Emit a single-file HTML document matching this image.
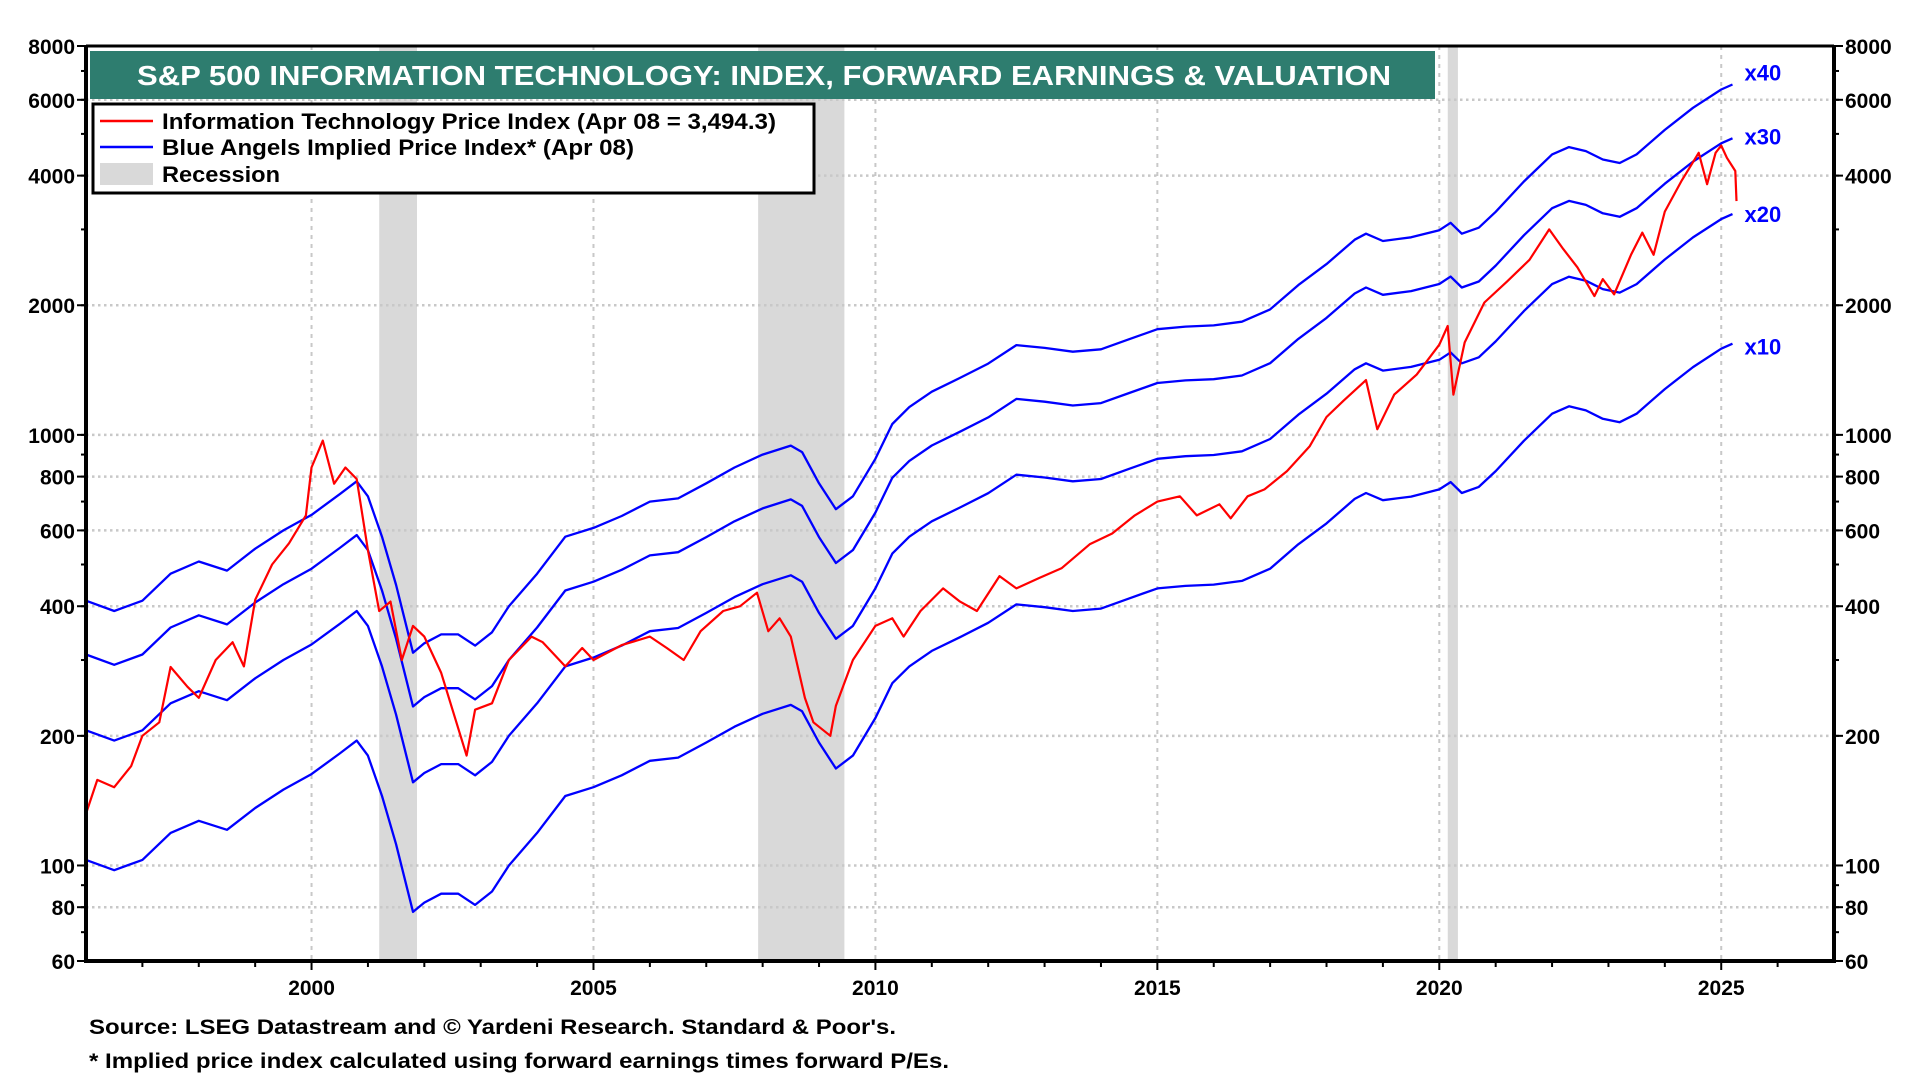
<!DOCTYPE html>
<html><head><meta charset="utf-8"><title>S&P 500 IT chart</title>
<style>
html,body{margin:0;padding:0;background:#fff;width:1920px;height:1080px;overflow:hidden}
svg{display:block}
text{font-family:"Liberation Sans Narrow","Liberation Sans",sans-serif;font-weight:bold}
</style></head>
<body>
<svg id="chart" width="1920" height="1080" viewBox="0 0 1920 1080" xmlns="http://www.w3.org/2000/svg">
<g id="rec"></g>
<g id="grid"></g>
<g id="series"></g>
<g id="axes"></g>
<rect x="90" y="51" width="1345" height="48" fill="#2e7d6f"/>
<text x="137" y="85" font-size="28" fill="#fff" textLength="1254" lengthAdjust="spacingAndGlyphs">S&amp;P 500 INFORMATION TECHNOLOGY: INDEX, FORWARD EARNINGS &amp; VALUATION</text>
<g>
<rect x="93" y="104" width="721" height="89" fill="#fff" stroke="#000" stroke-width="3"/>
<line x1="100" y1="121" x2="153" y2="121" stroke="#ff0000" stroke-width="2.5"/>
<text x="162" y="129" font-size="22" textLength="614" lengthAdjust="spacingAndGlyphs">Information Technology Price Index (Apr 08 = 3,494.3)</text>
<line x1="100" y1="147" x2="153" y2="147" stroke="#0000ff" stroke-width="2.5"/>
<text x="162" y="155" font-size="22" textLength="472" lengthAdjust="spacingAndGlyphs">Blue Angels Implied Price Index* (Apr 08)</text>
<rect x="100" y="163" width="53" height="22" fill="#d9d9d9"/>
<text x="162" y="182" font-size="22" textLength="118" lengthAdjust="spacingAndGlyphs">Recession</text>
</g>
<g id="mlabels"></g>
<text x="89" y="1034" font-size="21" textLength="807" lengthAdjust="spacingAndGlyphs">Source: LSEG Datastream and © Yardeni Research. Standard &amp; Poor's.</text>
<text x="89" y="1068" font-size="21" textLength="860" lengthAdjust="spacingAndGlyphs">* Implied price index calculated using forward earnings times forward P/Es.</text>
</svg>
<script>
const epsYears=[1996.0,1996.5,1997.0,1997.5,1998.0,1998.5,1999.0,1999.5,2000.0,2000.5,2000.8,2001.0,2001.25,2001.5,2001.8,2002.0,2002.3,2002.6,2002.9,2003.2,2003.5,2004.0,2004.5,2005.0,2005.5,2006.0,2006.5,2007.0,2007.5,2008.0,2008.5,2008.7,2009.0,2009.3,2009.6,2010.0,2010.3,2010.6,2011.0,2011.5,2012.0,2012.5,2013.0,2013.5,2014.0,2014.5,2015.0,2015.5,2016.0,2016.5,2017.0,2017.5,2018.0,2018.5,2018.7,2019.0,2019.5,2020.0,2020.2,2020.4,2020.7,2021.0,2021.5,2022.0,2022.3,2022.6,2022.9,2023.2,2023.5,2024.0,2024.5,2025.0,2025.2];
const epsTimesTen=[103,97.5,103,119,127,121,136,150,163,182,195,180,145,112,78,82,86,86,81,87,100,119,145,152,162,175,178,193,210,225,236,228,193,168,180,220,265,290,315,339,366,404,398,390,395,417,440,446,449,458,489,557,623,710,733,705,719,747,777,733,757,824,969,1120,1165,1140,1090,1070,1120,1277,1437,1585,1628];
const multiples=[10,20,30,40];
const multipleLabels=["x10","x20","x30","x40"];
const priceYears=[1996.0,1996.2,1996.5,1996.8,1997.0,1997.3,1997.5,1997.8,1998.0,1998.3,1998.6,1998.8,1999.0,1999.3,1999.6,1999.9,2000.0,2000.2,2000.4,2000.6,2000.8,2001.0,2001.2,2001.4,2001.6,2001.8,2002.0,2002.3,2002.5,2002.75,2002.9,2003.2,2003.5,2003.9,2004.1,2004.5,2004.8,2005.0,2005.5,2006.0,2006.3,2006.6,2006.9,2007.3,2007.6,2007.9,2008.1,2008.3,2008.5,2008.75,2008.9,2009.2,2009.3,2009.6,2010.0,2010.3,2010.5,2010.8,2011.2,2011.5,2011.8,2012.2,2012.5,2012.9,2013.3,2013.8,2014.2,2014.6,2015.0,2015.4,2015.7,2016.1,2016.3,2016.6,2016.9,2017.3,2017.7,2018.0,2018.3,2018.7,2018.9,2019.2,2019.6,2020.0,2020.15,2020.25,2020.45,2020.8,2021.2,2021.6,2021.95,2022.2,2022.45,2022.75,2022.9,2023.1,2023.4,2023.6,2023.8,2024.0,2024.3,2024.6,2024.75,2024.9,2025.0,2025.1,2025.25,2025.27];
const priceValues=[132,158,152,170,200,215,289,260,245,300,330,290,414,500,560,650,840,970,770,840,790,540,390,410,300,360,340,280,230,180,230,238,300,340,330,290,320,300,325,340,320,300,350,390,400,430,350,375,340,245,215,200,235,300,360,375,340,390,440,410,390,470,440,465,490,557,590,650,700,720,650,690,640,720,747,824,940,1100,1200,1340,1030,1240,1380,1620,1790,1240,1640,2030,2270,2550,3000,2700,2450,2100,2300,2120,2620,2950,2620,3300,3900,4520,3820,4520,4700,4400,4100,3490];
const recStart=[2001.2,2007.92];
const recEnd=[2001.87,2009.45];
const recStart2=[2020.15];
const recEnd2=[2020.33];
const yTicks=[60,80,100,200,400,600,800,1000,2000,4000,6000,8000];
const yGrid=[80,100,200,400,600,800,1000,2000,4000,6000];
const xTicks=[2000,2005,2010,2015,2020,2025];

const NS='http://www.w3.org/2000/svg';
const X0=86,X1=1834,Y0=46,Y1=961,T0=1996,T1=2027;
const labelDy=[3,0,-2,-12];
function xs(t){return X0+(t-T0)/(T1-T0)*(X1-X0);}
function ys(v){return Y0+(Math.log10(8000)-Math.log10(v))*(Y1-Y0)/(Math.log10(8000)-Math.log10(60));}
function mk(tag,parent,attrs){const e=document.createElementNS(NS,tag);for(const k in attrs)e.setAttribute(k,attrs[k]);parent.appendChild(e);return e;}

const rec=document.getElementById('rec');
const allS=recStart.concat(recStart2), allE=recEnd.concat(recEnd2);
for(let i=0;i<allS.length;i++){
  const r=mk('rect',rec,{x:xs(allS[i]),y:Y0,width:xs(allE[i])-xs(allS[i]),height:Y1-Y0,fill:'#d9d9d9'});
  
  
}
const grid=document.getElementById('grid');
yGrid.forEach(v=>{
  const l=mk('line',grid,{x1:X0,x2:X1,y1:ys(v),y2:ys(v),stroke:'#c8c8c8','stroke-width':2.5,'stroke-dasharray':'2.5 3.5'});
  
  
});
xTicks.forEach(t=>{
  const l=mk('line',grid,{x1:xs(t),x2:xs(t),y1:Y0,y2:Y1,stroke:'#c8c8c8','stroke-width':2,'stroke-dasharray':'4 5'});
  
  
});
const series=document.getElementById('series');
multiples.forEach((m,i)=>{
  const pts=epsYears.map((t,j)=>xs(t).toFixed(1)+','+ys(epsTimesTen[j]*m/10).toFixed(1)).join(' ');
  const p=mk('polyline',series,{points:pts,fill:'none',stroke:'#0000ff','stroke-width':2.3,'stroke-linejoin':'round'});
  
  
});
const pp=priceYears.map((t,j)=>xs(t).toFixed(1)+','+ys(priceValues[j]).toFixed(1)).join(' ');
const pl=mk('polyline',series,{points:pp,fill:'none',stroke:'#ff0000','stroke-width':2.2,'stroke-linejoin':'round'});



const ml=document.getElementById('mlabels');
const lastT=epsYears[epsYears.length-1], lastE=epsTimesTen[epsTimesTen.length-1];
multiples.forEach((m,i)=>{
  const tx=mk('text',ml,{x:xs(lastT)+12,y:ys(lastE*m/10)+8+labelDy[i],'font-size':22,fill:'#0000ff','font-family':'Liberation Sans, sans-serif'});
  tx.textContent=multipleLabels[i];
  
  
});

const ax=document.getElementById('axes');
const fr=mk('path',ax,{d:`M${X0},${Y0}L${X1},${Y0}`,stroke:'#000','stroke-width':3,fill:'none'});


const la=mk('path',ax,{d:`M${X0},${Y0}L${X0},${Y1}L${X1},${Y1}L${X1},${Y0}`,stroke:'#000','stroke-width':4,fill:'none'});


const minors=[60,70,80,90,100,200,300,400,500,600,700,800,900,1000,2000,3000,4000,5000,6000,7000,8000];
minors.forEach(v=>{
  const y=ys(v);
  mk('line',ax,{x1:X0-5,x2:X0,y1:y,y2:y,stroke:'#000','stroke-width':2});
  mk('line',ax,{x1:X1,x2:X1+5,y1:y,y2:y,stroke:'#000','stroke-width':2});
});
yTicks.forEach(v=>{
  const y=ys(v);
  mk('line',ax,{x1:X0-9,x2:X0,y1:y,y2:y,stroke:'#000','stroke-width':2});
  mk('line',ax,{x1:X1,x2:X1+9,y1:y,y2:y,stroke:'#000','stroke-width':2});
  const a=mk('text',ax,{x:X0-11,y:y+8,'font-size':21,'text-anchor':'end'});
  a.textContent=v;
  
  
  const b=mk('text',ax,{x:X1+11,y:y+8,'font-size':21,'text-anchor':'start'});
  b.textContent=v;
  
  
});
for(let t=1997;t<=2026;t++){
  mk('line',ax,{x1:xs(t),x2:xs(t),y1:Y1,y2:Y1+(t%5===0?9:6),stroke:'#000','stroke-width':2});
}
xTicks.forEach(t=>{
  const a=mk('text',ax,{x:xs(t),y:995,'font-size':21,'text-anchor':'middle'});
  a.textContent=t;
  
  
});
</script>
</body></html>
